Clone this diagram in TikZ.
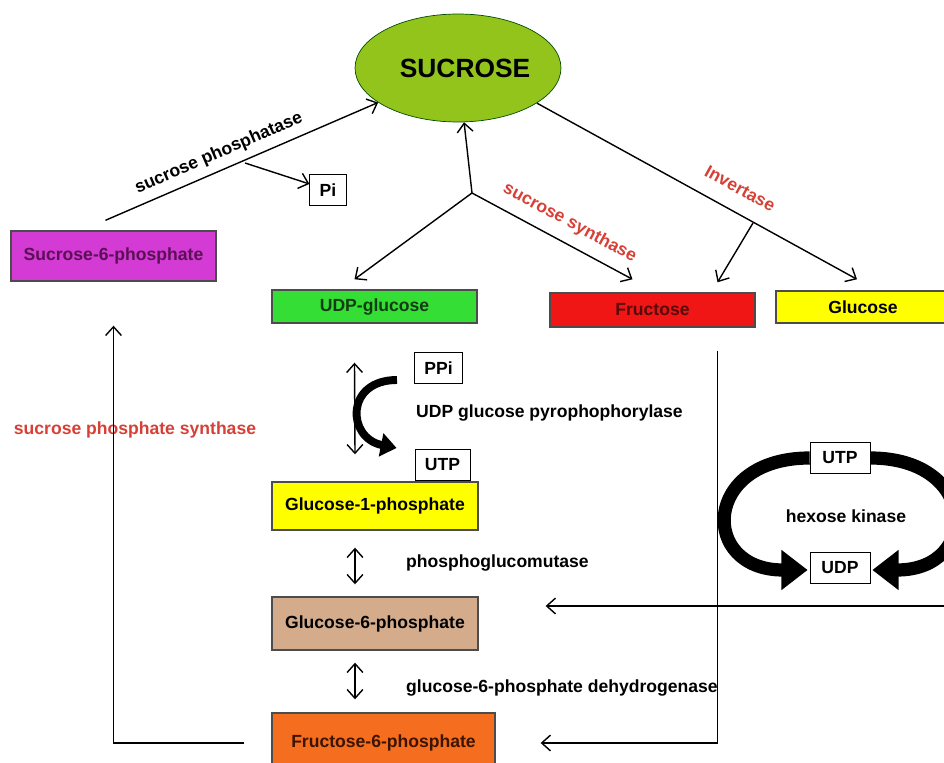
\documentclass[tikz,border=0pt]{standalone}
\usepackage{fontspec}
\setmainfont{Liberation Sans}
\usetikzlibrary{arrows.meta,shapes.geometric}

\definecolor{sucgreen}{RGB}{146,196,28}
\definecolor{magbox}{RGB}{212,58,212}
\definecolor{udpgreen}{RGB}{52,222,52}
\definecolor{frured}{RGB}{240,22,22}
\definecolor{glcyellow}{RGB}{255,255,0}
\definecolor{tanbox}{RGB}{212,172,140}
\definecolor{orangebox}{RGB}{245,110,32}
\definecolor{enzred}{RGB}{214,64,54}

\newcommand{\revarrow}[2]{\draw[twoway] (#1) -- (#2);}

\begin{document}
\begin{tikzpicture}
                [
                x=0.02cm, y=-0.02cm,
                box/.style={rectangle,draw=black!70,thick,minimum width=4.1cm,minimum height=0.66cm,font=\fontsize{10}{12}\selectfont\bfseries},
                tag/.style={rectangle,draw=black,thin,fill=white,inner xsep=0.2cm,minimum height=0.62cm,font=\fontsize{10}{12}\selectfont\bfseries},
                enzyme/.style={font=\fontsize{10}{12}\selectfont\bfseries},
                redenz/.style={enzyme,text=enzred},
                arrow/.style={-{Straight Barb[length=5pt,width=9pt]},line width=0.8pt},
                twoway/.style={{Straight Barb[length=5pt,width=9pt]}-{Straight Barb[length=5pt,width=9pt]},line width=0.8pt},
                fat/.style={-{Triangle[width=13pt,length=9pt]},line width=4.5pt},
                fatter/.style={-{Triangle[width=22pt,length=15pt]},line width=7.5pt},
                ]
                \useasboundingbox (0,0) rectangle (944,763);
                \clip (0,0) rectangle (944,763);
                % metabolites
                \node[ellipse,draw=green!30!black,fill=sucgreen,inner sep=0pt,minimum width=4.12cm,minimum height=2.16cm,font=\fontsize{15}{18}\selectfont\bfseries] (suc) at (458,68) {\hspace{8pt}SUCROSE};
                \node[box,fill=magbox,minimum height=1cm,text={rgb,255:red,90;green,16;blue,84}] (s6p) at (113.5,256) {Sucrose-6-phosphate};
                \node[box,fill=udpgreen,text={rgb,255:red,20;green,60;blue,20}] (udpg) at (374.5,306.5) {UDP-glucose};
                \node[box,fill=frured,minimum height=0.68cm,text={rgb,255:red,90;green,10;blue,10}] (fru) at (652.5,310) {Fructose};
                \node[box,fill=glcyellow,minimum width=3.48cm,minimum height=0.64cm] (glc) at (863,307) {Glucose};
                \node[box,fill=glcyellow,minimum width=4.12cm,minimum height=0.96cm] (g1p) at (375,506) {Glucose-1-phosphate};
                \node[box,fill=tanbox,minimum width=4.12cm,minimum height=1.06cm] (g6p) at (375,623.5) {Glucose-6-phosphate};
                \node[box,fill=orangebox,minimum width=4.46cm,minimum height=1.2cm,text={rgb,255:red,60;green,20;blue,0}] (f6p) at (383.5,743) {Fructose-6-phosphate};
                % side products
                \node[tag] (pi) at (328,190) {Pi};
                \node[tag] (ppi) at (438.5,368) {PPi};
                \node[tag] (utpa) at (442.5,465) {UTP};
                \node[tag,minimum width=1.2cm] (utpb) at (840,458) {UTP};
                \node[tag,minimum width=1.2cm] (udp) at (840,568) {UDP};
                % enzymes
                \node[enzyme,anchor=west] (ugpp) at (410,413) {UDP glucose pyrophophorylase};
                \node[enzyme,anchor=west] (pgm) at (400,563) {phosphoglucomutase};
                \node[enzyme,anchor=west] (gpdh) at (400,688) {glucose-6-phosphate dehydrogenase};
                \node[redenz] (sps) at (135,430) {sucrose phosphate synthase};
                \node[enzyme] (hk) at (846,516) {hexose kinase};
                % sucrose phosphatase
                \coordinate (spstart) at ([shift={(-8,-10)}]s6p.north);
                \coordinate (pibranch) at (245,163);
                \draw[arrow] (spstart) -- node[enzyme,sloped,above=1pt,pos=0.44] {sucrose phosphatase} (suc);
                \draw[arrow] (pibranch) -- (pi);
                % sucrose synthase
                \coordinate (ssbranch) at (472,193);
                \draw[arrow] (ssbranch) -- (suc);
                \draw[arrow] (ssbranch) -- ([shift={(-20,-10)}]udpg.north);
                \draw[arrow] (ssbranch) -- node[redenz,sloped,above=3pt,pos=0.55] {sucrose synthase} ([shift={(-20,-13)}]fru.north);
                % invertase
                \coordinate (invbranch) at (753,223);
                \draw[arrow] (suc.-24) -- node[redenz,sloped,above=6pt,pos=0.6] {Invertase} ([shift={(-6,-11)}]glc.north);
                \draw[arrow] (invbranch) -- ([shift={(65,-10)}]fru.north);
                % reversible steps
                \revarrow{[shift={(-20,39)}]udpg.south}{[shift={(-20,-27)}]g1p.north}
                \revarrow{[shift={(-20,17)}]g1p.south}{[shift={(-20,-12)}]g6p.north}
                \revarrow{[shift={(-20,12)}]g6p.south}{[shift={(-28.5,-13)}]f6p.north}
                \draw[fat] ([shift={(-17,12)}]ppi.west) .. controls +(-52,0) and +(-50,-10) .. ([shift={(-18,-17)}]utpa.west);
                % hexose kinase
                \draw[fatter] (utpb.west) .. controls +(-108,0) and +(-108,0) .. ([shift={(-2,2)}]udp.west);
                \draw[fatter] (utpb.east) .. controls +(108,0) and +(108,0) .. ([shift={(2,2)}]udp.east);
                % feeding lines
                \coordinate (glcin) at (950,606);
                \draw[arrow] (glcin) -- ([shift={(67,-17.5)}]g6p.east);
                \draw[arrow] ([shift={(65,23)}]fru.south) |- ([shift={(45,0)}]f6p.east);
                \draw[arrow] ([shift={(-27,0)}]f6p.west) -| ([shift={(0,44)}]s6p.south);
            \end{tikzpicture}
\end{document}
